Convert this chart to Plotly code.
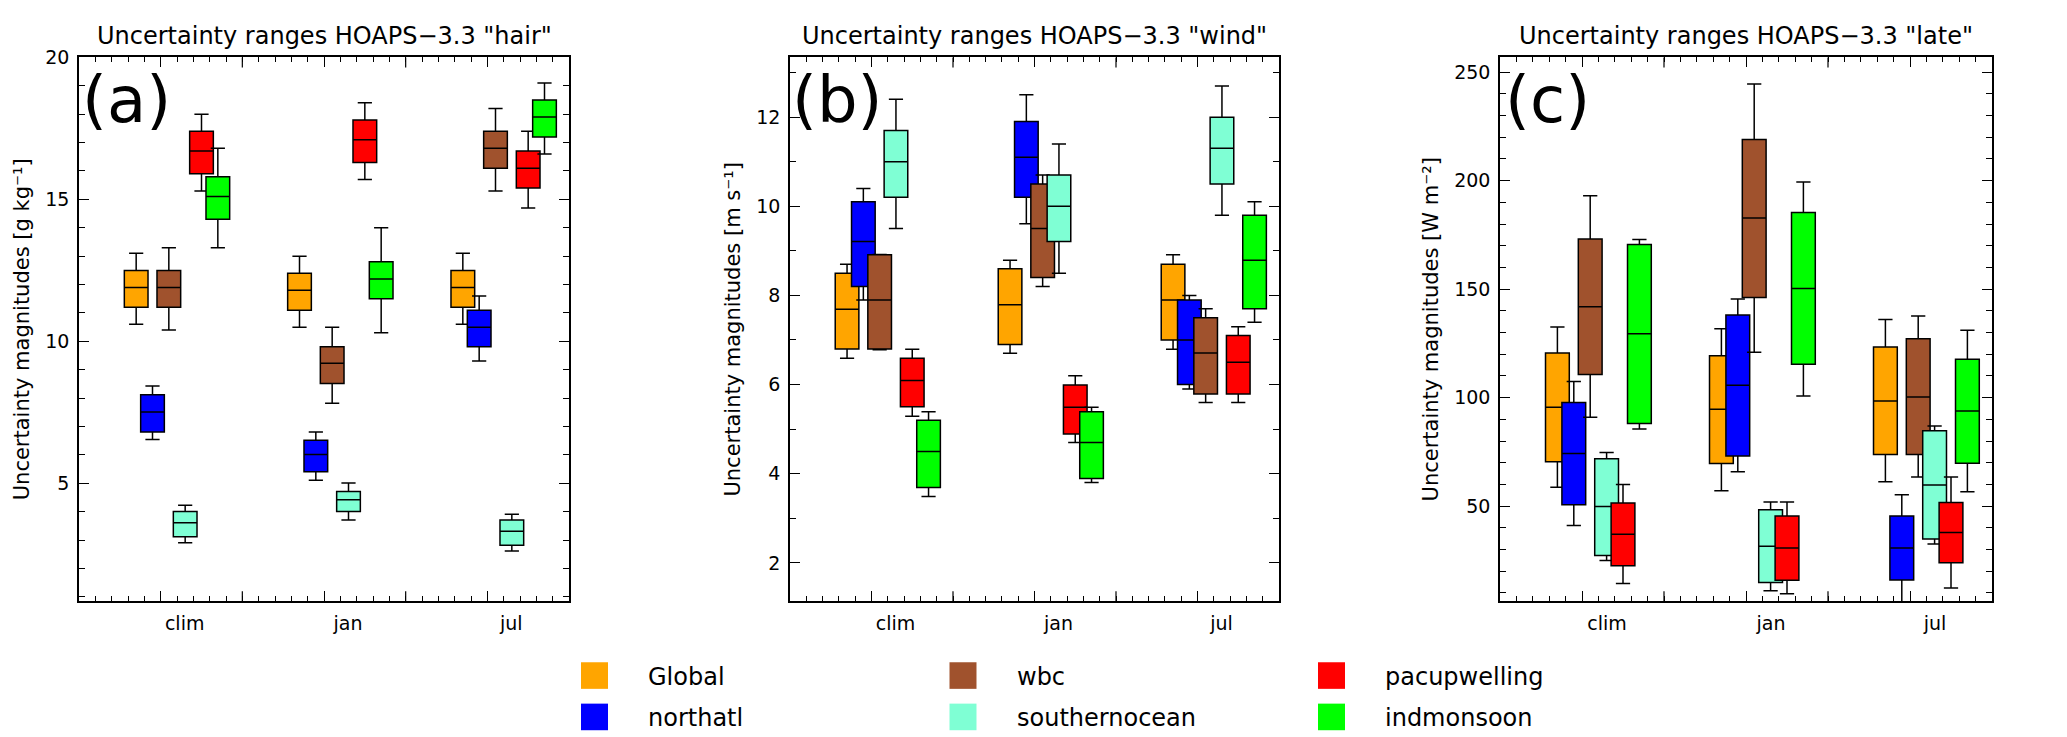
import plotly.graph_objects as go

W, H = 2067, 737

periods = ["clim", "jan", "jul"]
regions = ["Global", "northatl", "wbc", "southernocean", "pacupwelling", "indmonsoon"]
colors = ["#FFA500", "#0000FF", "#A0522D", "#7FFFD4", "#FF0000", "#00FF00"]

# rows = regions (same order as above), columns = clim, jan, jul
# (a) hair  [g kg-1]
hair_lo = [[10.6, 10.5, 10.6], [6.54, 5.11, 9.31], [10.4, 7.82, 15.3],
           [2.91, 3.71, 2.62], [15.3, 15.7, 14.7], [13.3, 10.3, 16.6]]
hair_q1 = [[11.2, 11.1, 11.2], [6.81, 5.41, 9.81], [11.2, 8.52, 16.1],
           [3.12, 4.01, 2.82], [15.9, 16.3, 15.4], [14.3, 11.5, 17.2]]
hair_med = [[11.9, 11.8, 11.9], [7.51, 6.02, 10.5], [11.9, 9.23, 16.8],
            [3.61, 4.42, 3.31], [16.7, 17.1, 16.1], [15.1, 12.2, 17.9]]
hair_q3 = [[12.5, 12.4, 12.5], [8.12, 6.52, 11.1], [12.5, 9.81, 17.4],
           [4.01, 4.71, 3.71], [17.4, 17.8, 16.7], [15.8, 12.8, 18.5]]
hair_hi = [[13.1, 13.0, 13.1], [8.43, 6.81, 11.6], [13.3, 10.5, 18.2],
           [4.23, 5.01, 3.91], [18.0, 18.4, 17.4], [16.8, 14.0, 19.1]]

# (b) wind  [m s-1]
wind_lo = [[6.59, 6.70, 6.79], [7.90, 9.61, 5.90], [6.78, 8.20, 5.60],
           [9.50, 8.50, 9.80], [5.29, 4.70, 5.60], [3.49, 3.80, 7.40]]
wind_q1 = [[6.80, 6.90, 7.00], [8.20, 10.2, 6.00], [6.80, 8.40, 5.79],
           [10.2, 9.21, 10.5], [5.50, 4.89, 5.79], [3.69, 3.89, 7.70]]
wind_med = [[7.69, 7.79, 7.90], [9.21, 11.1, 7.00], [7.90, 9.50, 6.71],
            [11.0, 10.0, 11.3], [6.09, 5.49, 6.50], [4.50, 4.70, 8.79]]
wind_q3 = [[8.50, 8.60, 8.70], [10.1, 11.9, 7.90], [8.91, 10.5, 7.50],
           [11.7, 10.7, 12.0], [6.59, 5.99, 7.10], [5.20, 5.39, 9.80]]
wind_hi = [[8.70, 8.79, 8.91], [10.4, 12.5, 8.00], [8.92, 10.7, 7.70],
           [12.4, 11.4, 12.7], [6.79, 6.20, 7.30], [5.39, 5.49, 10.1]]

# (c) late  [W m-2]
late_lo = [[58.7, 57.1, 61.2], [41.1, 65.9, 5.0], [91.0, 120.9, 63.4],
           [25.0, 11.0, 32.5], [14.3, 9.6, 12.3], [85.6, 100.8, 56.6]]
late_q1 = [[70.5, 69.6, 73.8], [50.6, 73.1, 16.0], [110.7, 146.2, 73.8],
           [27.3, 14.8, 34.9], [22.5, 15.9, 23.9], [88.1, 115.4, 69.8]]
late_med = [[95.6, 94.7, 98.5], [74.3, 105.7, 30.7], [141.9, 182.8, 100.3],
            [49.8, 31.5, 59.8], [37.0, 30.7, 37.9], [129.5, 150.3, 93.9]]
late_q3 = [[120.6, 119.3, 123.3], [97.8, 138.1, 45.4], [173.1, 219.0, 127.2],
           [71.8, 48.3, 84.7], [51.4, 45.4, 51.7], [170.6, 185.3, 117.7]]
late_hi = [[132.6, 131.7, 136.0], [107.5, 145.5, 55.3], [193.0, 244.6, 137.6],
           [74.7, 51.9, 86.9], [60.0, 51.9, 63.4], [172.9, 199.4, 131.1]]

panels = [
    dict(var="hair", letter="(a)", unit="[g kg\u207b\u00b9]",
         stats=(hair_lo, hair_q1, hair_med, hair_q3, hair_hi),
         yrange=[0.85, 20], dtick=5, minor=1, dom=(71, 561)),
    dict(var="wind", letter="(b)", unit="[m s\u207b\u00b9]",
         stats=(wind_lo, wind_q1, wind_med, wind_q3, wind_hi),
         yrange=[1.14, 13.34], dtick=2, minor=1, dom=(782, 1271)),
    dict(var="late", letter="(c)", unit="[W m\u207b\u00b2]",
         stats=(late_lo, late_q1, late_med, late_q3, late_hi),
         yrange=[6.2, 256.8], dtick=50, minor=10, dom=(1492, 1984)),
]

FONT = "DejaVu Sans"
top_px, bot_px = 39, 591

fig = go.Figure()
annotations = []
shapes = []

for p, pan in enumerate(panels):
    ax = "" if p == 0 else str(p + 1)
    lo, q1, med, q3, hi = pan["stats"]
    for j, reg in enumerate(regions):
        # boxes of one region sit one slot apart, groups ten slots apart
        xpos = [3.5 + 10 * i + j for i in range(len(periods))]
        fig.add_trace(go.Box(
            x=xpos, lowerfence=lo[j], q1=q1[j], median=med[j], q3=q3[j],
            upperfence=hi[j], width=1.45, whiskerwidth=0.6,
            fillcolor=colors[j], line=dict(color="black", width=1.5),
            boxpoints=False, name=reg, showlegend=False,
            xaxis="x" + ax, yaxis="y" + ax))

    x0, x1 = pan["dom"]
    px_per_unit = (x1 - x0) / 30.0
    common = dict(ticks="inside", tickcolor="black", tickwidth=1.2, ticklen=10,
                  mirror="ticks", showgrid=False, zeroline=False, fixedrange=True,
                  showline=True, linecolor="black", linewidth=1.5,
                  tickfont=dict(family=FONT, size=19, color="black"))
    # labelled long ticks at 5/15/25, label moved to the middle of the group
    fig.layout["xaxis" + ax] = dict(
        common, domain=[x0 / W, x1 / W], range=[0, 30], anchor="y" + ax,
        tickmode="array", tickvals=[5, 15, 25], ticktext=periods,
        ticklabelshift=round(1.5 * px_per_unit), ticklabelstandoff=4,
        minor=dict(ticks="inside", ticklen=5, tickwidth=1.2, tickcolor="black",
                   tick0=0, dtick=1))
    fig.layout["yaxis" + ax] = dict(
        common, domain=[1 - bot_px / H, 1 - top_px / H], range=pan["yrange"],
        anchor="x" + ax, tick0=0, dtick=pan["dtick"], ticklabelstandoff=4,
        minor=dict(ticks="inside", ticklen=6, tickwidth=1.2, tickcolor="black",
                   tick0=0, dtick=pan["minor"]),
        title=dict(text="Uncertainty magnitudes " + pan["unit"], standoff=10,
                   font=dict(family=FONT, size=21, color="black")))

    # unlabelled long ticks between the groups (bottom and top edge)
    for xv in (10, 20):
        for anchor_y, length in ((0, 10), (1, -10)):
            shapes.append(dict(type="line", xref="x" + ax, yref="y" + ax + " domain",
                               x0=xv, x1=xv, ysizemode="pixel", yanchor=anchor_y,
                               y0=0, y1=length, line=dict(color="black", width=1.2)))

    annotations.append(dict(
        text='Uncertainty ranges HOAPS\u22123.3 "' + pan["var"] + '"',
        xref="x" + ax + " domain", yref="paper", x=0.5, y=1 - 17 / H,
        xanchor="center", yanchor="middle", showarrow=False,
        font=dict(family=FONT, size=24, color="black")))
    annotations.append(dict(
        text=pan["letter"], xref="paper", yref="paper",
        x=(x0 + 47.5) / W, y=1 - 82 / H, xanchor="center", yanchor="middle",
        showarrow=False, font=dict(family=FONT, size=64, color="black")))

# legend: three columns of two entries below the panels
for k, (reg, col) in enumerate(zip(regions, colors)):
    c, r = k // 2, k % 2
    sx = 573 + 368.5 * c
    sy = 653 + 42 * r
    shapes.append(dict(type="rect", xref="paper", yref="paper",
                       x0=sx / W, x1=(sx + 27) / W, y0=1 - (sy + 27) / H, y1=1 - sy / H,
                       fillcolor=col, line=dict(width=0)))
    annotations.append(dict(
        text=reg, xref="paper", yref="paper", x=(sx + 65) / W, y=1 - (sy + 15) / H,
        xanchor="left", yanchor="middle", showarrow=False,
        font=dict(family=FONT, size=24, color="black")))

fig.update_layout(
    width=W, height=H, margin=dict(l=0, r=0, t=0, b=0),
    paper_bgcolor="white", plot_bgcolor="white",
    boxmode="overlay", showlegend=False,
    annotations=annotations, shapes=shapes,
)

fig.write_html("out.html", config={"displayModeBar": False})
